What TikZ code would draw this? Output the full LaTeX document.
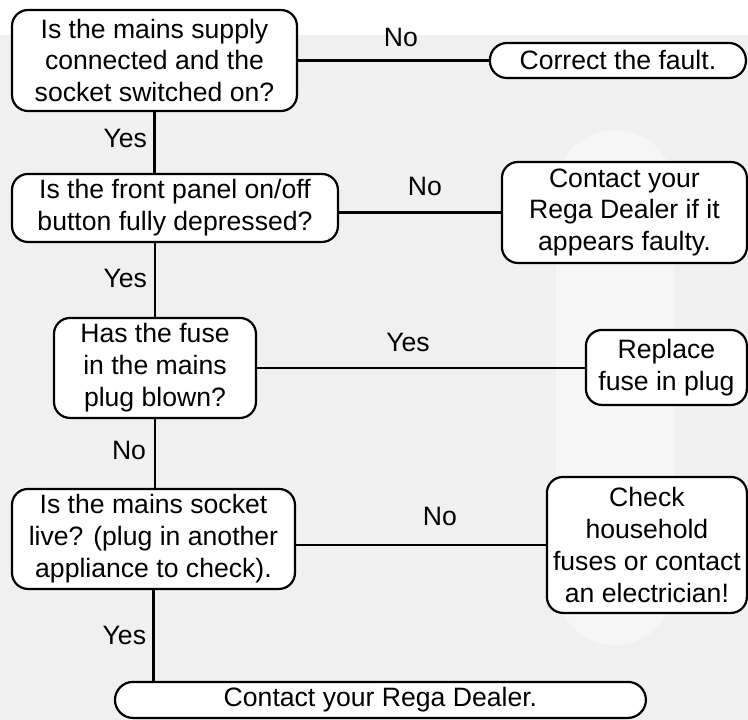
\documentclass[tikz,border=0pt]{standalone}
\usepackage{fontspec}
\setmainfont{Liberation Sans}
\usepackage{tikz}
\usepackage{xcolor}

\definecolor{bggrey}{RGB}{240,240,240}
\newcommand{\flowsz}{\fontsize{26.6}{32}\selectfont}

\tikzset{
  stepbox/.style={draw, line width=2.2pt, fill=white, rounded corners=16pt,
    align=center, inner sep=0pt, font=\flowsz},
  answer/.style={inner sep=0.75pt, font=\flowsz},
  flowline/.style={line width=2.2pt}
}

\begin{document}
\begin{tikzpicture}[x=1pt,y=1pt,yscale=-1,xscale=1]
%background and faint logo
\fill[bggrey] (0,0) rectangle (748,720);
\fill[white] (0,0) rectangle (748,35);
\fill[white, opacity=0.45, rounded corners=59pt] (556,130) rectangle (674,645);

%Rounded Rect: questions
\node[stepbox, minimum width=285, minimum height=101] (supply) at (154.5,60.5)
  {Is the mains supply\\connected and the\\socket switched on?};
\node[stepbox, minimum width=326, minimum height=68] (button) at (175,208)
  {Is the front panel on/off\\button fully depressed?};
\node[stepbox, minimum width=202, minimum height=100] (fuse) at (155,368)
  {Has the fuse\\in the mains\\plug blown?};
\node[stepbox, minimum width=283, minimum height=100] (socket) at (153.5,539)
  {Is the mains socket\\live? (plug in another\\appliance to check).};
\node[stepbox, minimum width=531, minimum height=36, rounded corners=18pt] (dealer) at (380.5,700)
  {Contact your Rega Dealer.};

%Rounded Rect: actions
\node[stepbox, minimum width=256, minimum height=35, rounded corners=17pt] (fault) at (618,60.5)
  {Correct the fault.};
\node[stepbox, minimum width=245, minimum height=101] (faulty) at (624.5,212.5)
  {Contact your\\Rega Dealer if it\\appears faulty.};
\node[stepbox, minimum width=161, minimum height=75] (replace) at (666.5,367.5)
  {Replace\\fuse in plug};
\node[stepbox, minimum width=200, minimum height=136] (household) at (647,545)
  {Check\\household\\fuses or contact\\an electrician!};

%Straight Lines
\draw[flowline] (supply.south) -- (supply.south |- button.north);
\draw[flowline] (fuse.north |- button.south) -- (fuse.north);
\draw[flowline] (fuse.south) -- (fuse.south |- socket.north);
\draw[flowline] (socket.south) -- (socket.south |- dealer.north);
\draw[flowline] (supply.east) -- (fault.west);
\draw[flowline] (button.east |- faulty.west) -- (faulty.west);
\draw[flowline] (fuse.east) -- (replace.west |- fuse.east);
\draw[flowline] (socket.east |- household.west) -- (household.west);

% Text Node
\node[answer, anchor=east] (yes1) at (148,138) {Yes};
\node[answer, anchor=east] (yes2) at (148,279) {Yes};
\node[answer, anchor=east] (no3) at (147,451) {No};
\node[answer, anchor=east] (yes4) at (147,636) {Yes};
\node[answer] (no1) at (401,37) {No};
\node[answer] (no2) at (425,187) {No};
\node[answer] (yes3) at (408,343) {Yes};
\node[answer] (no4) at (440,517) {No};

\end{tikzpicture}
\end{document}
